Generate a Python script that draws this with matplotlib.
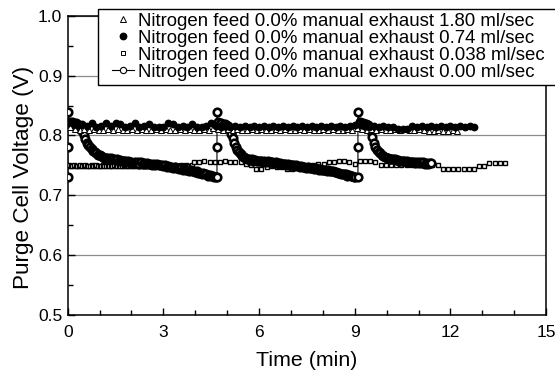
import numpy as np
import matplotlib
matplotlib.use("Agg")
import matplotlib.pyplot as plt
from matplotlib.lines import Line2D
from matplotlib.legend_handler import HandlerLine2D
from matplotlib.ticker import MultipleLocator

plt.rcParams['font.family'] = ['Liberation Sans', 'DejaVu Sans']

# Legend labels
LABELS = [
    "Nitrogen feed 0.0% manual exhaust 1.80 ml/sec",
    "Nitrogen feed 0.0% manual exhaust 0.74 ml/sec",
    "Nitrogen feed 0.0% manual exhaust 0.038 ml/sec",
    "Nitrogen feed 0.0% manual exhaust 0.00 ml/sec",
]

# 1.80 ml/sec (open triangles), sampled every 0.15 min
tri_start, tri_step = 0.07, 0.15
tri_v = [0.815, 0.810, 0.809, 0.810, 0.809, 0.810, 0.809, 0.809, 0.810, 0.809,
         0.810, 0.809, 0.809, 0.810, 0.809, 0.810, 0.809, 0.809, 0.810, 0.809,
         0.810, 0.809, 0.809, 0.810, 0.809, 0.810, 0.809, 0.809, 0.810, 0.809,
         0.812, 0.810, 0.809, 0.810, 0.809, 0.810, 0.809, 0.809, 0.810, 0.809,
         0.810, 0.809, 0.809, 0.810, 0.809, 0.810, 0.809, 0.809, 0.810, 0.809,
         0.810, 0.809, 0.809, 0.810, 0.809, 0.810, 0.809, 0.809, 0.810, 0.809,
         0.812, 0.810, 0.809, 0.810, 0.809, 0.810, 0.809, 0.809, 0.810, 0.809,
         0.810, 0.809, 0.809, 0.810, 0.809, 0.808, 0.808, 0.809, 0.808, 0.808,
         0.809, 0.808]

# 0.74 ml/sec (filled circles), sampled every 0.15 min
circ_start, circ_step = 0.0, 0.15
circ_v = [0.821, 0.823, 0.818, 0.820, 0.816, 0.821, 0.815, 0.816, 0.821, 0.816,
          0.821, 0.820, 0.815, 0.816, 0.821, 0.815, 0.816, 0.820, 0.815, 0.815,
          0.815, 0.821, 0.820, 0.815, 0.816, 0.815, 0.820, 0.815, 0.815, 0.816,
          0.821, 0.816, 0.815, 0.816, 0.815, 0.816, 0.815, 0.816, 0.815, 0.816,
          0.815, 0.816, 0.815, 0.816, 0.815, 0.816, 0.815, 0.816, 0.815, 0.816,
          0.815, 0.816, 0.815, 0.816, 0.815, 0.816, 0.815, 0.816, 0.815, 0.816,
          0.817, 0.819, 0.816, 0.815, 0.816, 0.815, 0.816, 0.815, 0.815, 0.810,
          0.810, 0.811, 0.816, 0.815, 0.816, 0.815, 0.816, 0.815, 0.816, 0.815,
          0.816, 0.815, 0.816, 0.815, 0.816, 0.815]

# 0.038 ml/sec (open squares): fast logging first, then every ~10 s
sq_fast_start, sq_fast_step = 0.0, 0.05
sq_fast_v = [0.749, 0.750, 0.749, 0.749, 0.750, 0.749, 0.749, 0.749, 0.750, 0.749,
             0.749, 0.750, 0.749, 0.749, 0.749, 0.750, 0.749, 0.749, 0.750, 0.749,
             0.749, 0.749, 0.750, 0.749, 0.749, 0.750, 0.749, 0.749, 0.749, 0.750,
             0.749, 0.749, 0.750, 0.749, 0.749, 0.749, 0.750, 0.749, 0.749, 0.750,
             0.749, 0.749, 0.749, 0.750, 0.749, 0.749, 0.750, 0.749, 0.749, 0.749,
             0.750, 0.749, 0.749, 0.750, 0.749, 0.749, 0.749, 0.750, 0.749, 0.749,
             0.750, 0.749, 0.749, 0.749, 0.750, 0.749, 0.749, 0.750, 0.749, 0.749,
             0.749, 0.750, 0.749, 0.749, 0.750, 0.749, 0.749, 0.749, 0.750]
sq_slow_start, sq_slow_step = 3.96, 0.1625
sq_slow_v = [0.756, 0.756, 0.757, 0.756, 0.756, 0.756, 0.757, 0.756, 0.756, 0.755,
             0.752, 0.750, 0.744, 0.744, 0.748, 0.749, 0.748, 0.748, 0.744, 0.744,
             0.748, 0.749, 0.750, 0.751, 0.752, 0.753, 0.755, 0.756, 0.757, 0.757,
             0.756, 0.753, 0.757, 0.757, 0.757, 0.756, 0.751, 0.751, 0.750, 0.751,
             0.750, 0.751, 0.750, 0.751, 0.750, 0.751, 0.750, 0.750, 0.744, 0.744,
             0.744, 0.744, 0.744, 0.744, 0.744, 0.749, 0.749, 0.754, 0.754, 0.754,
             0.754]

# 0.00 ml/sec (open circles with line): purge jumps + three decay cycles
purge_t = [[0.0, 0.0, 0.0], [4.68, 4.68, 4.68], [9.10, 9.10, 9.10]]
purge_v = [[0.73, 0.78, 0.84], [0.73, 0.78, 0.84], [0.73, 0.78, 0.84]]
cyc_step = 0.05
cyc_start = [0.05, 4.72, 9.15]
cyc1_v = [0.822, 0.820, 0.822, 0.819, 0.821, 0.818, 0.817, 0.813, 0.807, 0.800,
          0.794, 0.788, 0.784, 0.780, 0.777, 0.774, 0.772, 0.770, 0.768, 0.767,
          0.765, 0.764, 0.763, 0.763, 0.762, 0.761,
          0.762, 0.760, 0.761, 0.759, 0.760, 0.758, 0.759, 0.757, 0.758, 0.757, 0.756,
          0.757, 0.755, 0.756, 0.754, 0.756, 0.754, 0.755, 0.753, 0.755, 0.753,
          0.754, 0.752, 0.754, 0.752, 0.753, 0.751, 0.753, 0.751, 0.752, 0.750,
          0.751, 0.750, 0.749, 0.750, 0.748, 0.749, 0.747, 0.748, 0.746, 0.747,
          0.745, 0.746, 0.744, 0.745, 0.743, 0.744, 0.742, 0.743, 0.741, 0.742, 0.740,
          0.741, 0.739, 0.740, 0.738, 0.738, 0.736, 0.737, 0.735, 0.735, 0.733,
          0.734, 0.732, 0.732, 0.731, 0.730]
cyc2_v = [0.822, 0.819, 0.821, 0.818, 0.820, 0.818, 0.816,
          0.811, 0.803, 0.795, 0.787, 0.781, 0.776, 0.772, 0.769, 0.766, 0.764,
          0.762, 0.761, 0.760,
          0.759, 0.760, 0.758, 0.759, 0.757, 0.758, 0.757, 0.758, 0.756, 0.757,
          0.756, 0.757,
          0.756, 0.755, 0.756, 0.754, 0.755, 0.754, 0.753, 0.754, 0.752, 0.753,
          0.752, 0.751, 0.752, 0.750, 0.751, 0.750, 0.749, 0.750,
          0.749, 0.748, 0.749, 0.747, 0.748, 0.746, 0.747, 0.746, 0.745, 0.746,
          0.744, 0.745, 0.744, 0.743, 0.744, 0.742, 0.743, 0.742, 0.741, 0.742, 0.741,
          0.740, 0.741, 0.739, 0.739, 0.737, 0.738, 0.736, 0.736, 0.735, 0.735,
          0.733, 0.734, 0.732, 0.732, 0.731, 0.730]
cyc3_v = [0.822, 0.819, 0.821, 0.818, 0.820, 0.817, 0.815,
          0.808, 0.798, 0.788, 0.781, 0.776, 0.772, 0.770, 0.768, 0.766, 0.764, 0.763,
          0.762, 0.761, 0.761, 0.760, 0.760, 0.759, 0.759, 0.758, 0.758, 0.757,
          0.757, 0.756, 0.757, 0.755, 0.756, 0.755, 0.756, 0.754, 0.755, 0.754,
          0.755, 0.754, 0.755, 0.753, 0.754, 0.753, 0.754, 0.754]


def sampled(start, step, values):
    return start + step * np.arange(len(values)), np.array(values)


fig = plt.figure(figsize=(5.55, 3.78), dpi=100)
ax = fig.add_axes([0.122, 0.167, 0.862, 0.791])

# 0.038 ml/sec squares
for start, step, vals in [(sq_fast_start, sq_fast_step, sq_fast_v),
                          (sq_slow_start, sq_slow_step, sq_slow_v)]:
    t, v = sampled(start, step, vals)
    ax.plot(t, v, ls='none', marker='s', ms=3.4, mfc='white', mec='black',
            mew=1.0, zorder=3)

# 0.00 ml/sec line with open circles
t_all, v_all = [], []
for k, vals in enumerate([cyc1_v, cyc2_v, cyc3_v]):
    t_all += purge_t[k]
    v_all += purge_v[k]
    t, v = sampled(cyc_start[k], cyc_step, vals)
    t_all += list(t)
    v_all += list(v)
ax.plot(t_all, v_all, color='black', lw=0.8, marker='o', ms=5.4, mfc='white',
        mec='black', mew=1.9, zorder=4)

# 1.80 ml/sec triangles
t, v = sampled(tri_start, tri_step, tri_v)
ax.plot(t, v, ls='none', marker='^', ms=4.3, mfc='white', mec='black',
        mew=0.7, zorder=5)

# 0.74 ml/sec filled circles
t, v = sampled(circ_start, circ_step, circ_v)
ax.plot(t, v, ls='none', marker='o', ms=4.6, color='black', zorder=6)

ax.set_xlim(0, 15)
ax.set_ylim(0.5, 1.0)
ax.xaxis.set_major_locator(MultipleLocator(3))
ax.xaxis.set_minor_locator(MultipleLocator(1))
ax.yaxis.set_major_locator(MultipleLocator(0.1))
ax.yaxis.set_minor_locator(MultipleLocator(0.05))
ax.yaxis.set_major_formatter(plt.FormatStrFormatter('%.1f'))
ax.tick_params(which='both', direction='in', top=False, right=False,
               labelsize=12.5, width=1)
ax.tick_params(which='major', length=5)
ax.tick_params(which='minor', length=3.5)
ax.tick_params(axis='x', pad=7)
ax.tick_params(axis='y', pad=4)
ax.grid(axis='y', which='major', color='#8c8c8c', lw=0.9, zorder=1)
ax.set_axisbelow(True)
for s in ax.spines.values():
    s.set_linewidth(1.1)

ax.set_xlabel("Time (min)", fontsize=15.4, labelpad=8)
ax.set_ylabel("Purge Cell Voltage (V)", fontsize=16.2)
ax.yaxis.set_label_coords(-0.070, 0.461)

handles = [
    Line2D([], [], ls='none', marker='^', ms=4.3, mfc='white', mec='black', mew=0.7),
    Line2D([], [], ls='none', marker='o', ms=4.6, color='black'),
    Line2D([], [], ls='none', marker='s', ms=3.4, mfc='white', mec='black', mew=0.7),
    Line2D([], [], color='black', lw=0.8, marker='o', ms=4.5, mfc='white',
           mec='black', mew=0.8),
]
hmap = {h: HandlerLine2D(xpad=0.55) for h in handles}
leg = fig.legend(handles, LABELS, loc='upper left', mode='expand',
                 bbox_to_anchor=(0.1766, 0.5, 0.9, 0.476),
                 bbox_transform=fig.transFigure, borderaxespad=0,
                 fontsize=13.4, labelspacing=0.0, handlelength=1.75,
                 handletextpad=0.2, borderpad=0.2, fancybox=False,
                 framealpha=1, edgecolor='black', handler_map=hmap)
leg.get_frame().set_linewidth(1.0)
leg.set_zorder(10)

fig.savefig("out.png", dpi=100)
